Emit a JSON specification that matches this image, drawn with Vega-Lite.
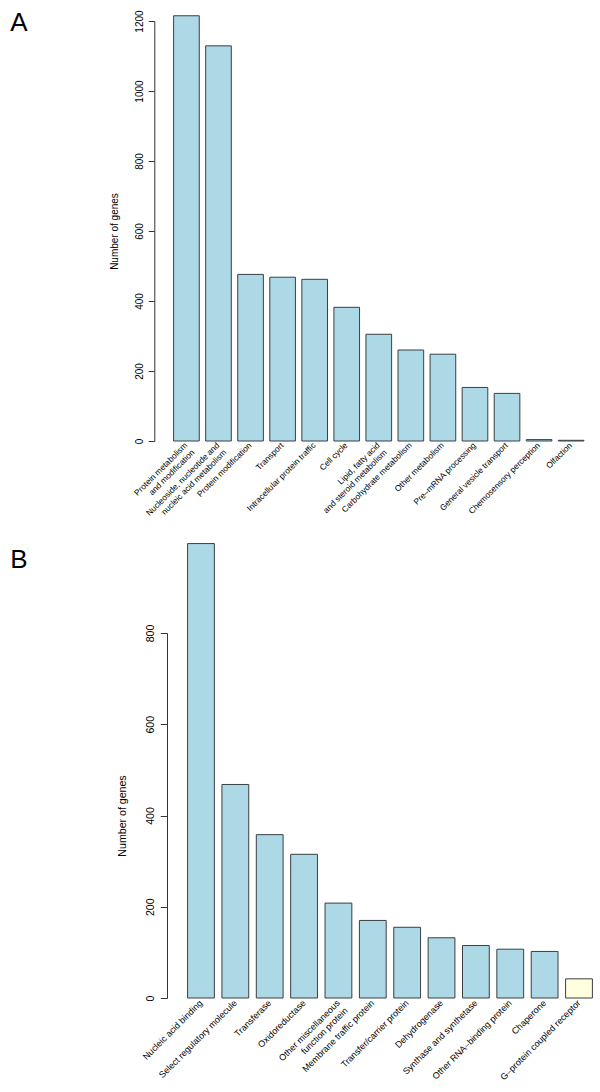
{
  "$schema": "https://vega.github.io/schema/vega-lite/v6.json",
  "background": "white",
  "padding": {"left": 10, "top": 9, "right": 0, "bottom": 0},
  "spacing": 19,
  "config": {
    "view": {"stroke": null},
    "font": "Liberation Sans",
    "axis": {"labelFont": "Liberation Sans", "titleFont": "Liberation Sans", "labelColor": "#000", "titleColor": "#000", "domainColor": "#333", "tickColor": "#333", "grid": false, "titleFontWeight": "normal"}
  },
  "vconcat": [
    {
      "width": 433.3,
      "height": 420,
      "title": {"text": "A", "anchor": "start", "frame": "group", "fontSize": 26, "fontWeight": "normal", "font": "Liberation Sans", "color": "#000", "baseline": "alphabetic", "offset": 0, "dx": -156.7, "dy": 46.7},
      "data": {"values": [
        {"category": "Protein metabolism\nand modification", "genes": 1215},
        {"category": "Nucleoside, nucleotide and\nnucleic acid metabolism", "genes": 1129},
        {"category": "Protein modification", "genes": 476},
        {"category": "Transport", "genes": 468},
        {"category": "Intracellular protein traffic", "genes": 462},
        {"category": "Cell cycle", "genes": 382},
        {"category": "Lipid, fatty acid\nand steroid metabolism", "genes": 305},
        {"category": "Carbohydrate metabolism", "genes": 260},
        {"category": "Other metabolism", "genes": 248},
        {"category": "Pre–mRNA processing", "genes": 153},
        {"category": "General vesicle transport", "genes": 136},
        {"category": "Chemosensory perception", "genes": 4},
        {"category": "Olfaction", "genes": 2}
      ]},
      "mark": {"type": "bar", "fill": "#ADD8E6", "stroke": "#3a3f42", "strokeWidth": 1},
      "encoding": {
        "x": {
          "field": "category", "type": "nominal", "sort": null,
          "scale": {"paddingInner": 0.2, "paddingOuter": 0.3575, "align": 0.288},
          "axis": {"title": null, "ticks": false, "domain": false, "labelAngle": -45, "labelAlign": "right", "labelBaseline": "middle", "labelPadding": 3, "labelFontSize": 8.3, "labelLineHeight": 10, "labelLimit": 0, "labelOverlap": false, "labelBound": false, "labelFlush": false, "labelExpr": "split(datum.label, '\\n')"}
        },
        "y": {
          "field": "genes", "type": "quantitative",
          "scale": {"domain": [0, 1200], "nice": false, "zero": true},
          "axis": {"title": "Number of genes", "offset": 12.7, "format": "d", "values": [0, 200, 400, 600, 800, 1000, 1200], "tickSize": 6, "labelAngle": -90, "labelAlign": "center", "labelBaseline": "alphabetic", "labelPadding": 6, "labelFontSize": 10, "titleFontSize": 10, "titleBaseline": "alphabetic", "titlePadding": 16.7, "labelFlush": false, "labelOverlap": false}
        }
      }
    },
    {
      "width": 433,
      "height": 365,
      "title": {"text": "B", "anchor": "start", "frame": "group", "fontSize": 26, "fontWeight": "normal", "font": "Liberation Sans", "color": "#000", "baseline": "alphabetic", "offset": 0, "dx": -156.7, "dy": 51.3},
      "data": {"values": [
        {"category": "Nucleic acid binding", "genes": 996},
        {"category": "Select regulatory molecule", "genes": 468},
        {"category": "Transferase", "genes": 358},
        {"category": "Oxidoreductase", "genes": 315},
        {"category": "Other miscellaneous\nfunction protein", "genes": 208},
        {"category": "Membrane traffic protein", "genes": 170},
        {"category": "Transfer/carrier protein", "genes": 155},
        {"category": "Dehydrogenase", "genes": 132},
        {"category": "Synthase and synthetase", "genes": 115},
        {"category": "Other RNA–binding protein", "genes": 107},
        {"category": "Chaperone", "genes": 102},
        {"category": "G–protein coupled receptor", "genes": 42}
      ]},
      "mark": {"type": "bar", "stroke": "#3a3f42", "strokeWidth": 1},
      "encoding": {
        "x": {
          "field": "category", "type": "nominal", "sort": null,
          "scale": {"paddingInner": 0.22, "paddingOuter": 0.41, "align": 0.73},
          "axis": {"title": null, "ticks": false, "domain": false, "labelAngle": -45, "labelAlign": "right", "labelBaseline": "middle", "labelPadding": 3, "labelFontSize": 9, "labelLineHeight": 10.8, "labelLimit": 0, "labelOverlap": false, "labelBound": false, "labelFlush": false, "labelExpr": "split(datum.label, '\\n')"}
        },
        "y": {
          "field": "genes", "type": "quantitative",
          "scale": {"domain": [0, 800], "nice": false, "zero": true},
          "axis": {"title": "Number of genes", "format": "d", "values": [0, 200, 400, 600, 800], "tickSize": 6.7, "labelAngle": -90, "labelAlign": "center", "labelBaseline": "alphabetic", "labelPadding": 7.3, "labelFontSize": 10.6, "titleFontSize": 10.6, "titleBaseline": "alphabetic", "titlePadding": 19.5, "labelFlush": false, "labelOverlap": false}
        },
        "fill": {
          "condition": {"test": "datum.category === 'G–protein coupled receptor'", "value": "#FFFFE0"},
          "value": "#ADD8E6"
        }
      }
    }
  ]
}
